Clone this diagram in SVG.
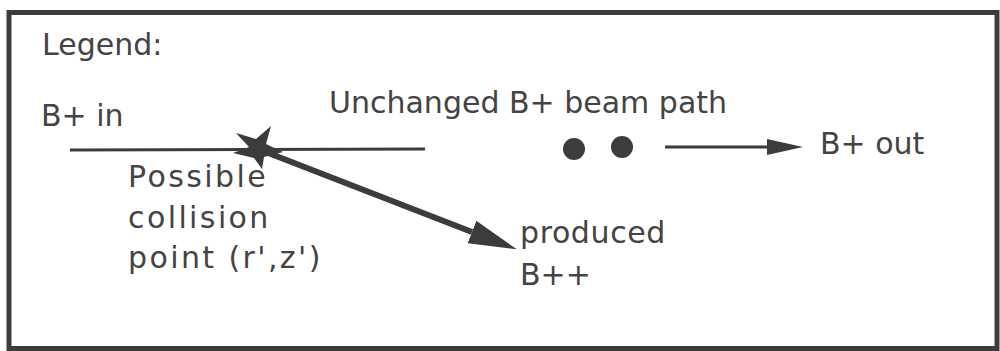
<svg xmlns="http://www.w3.org/2000/svg" width="1000" height="351" viewBox="0 0 1000 351">
<defs>
<style>
.t{font-family:"DejaVu Sans","Liberation Sans",sans-serif;font-size:30px;fill:#444}
.wide{letter-spacing:2.4px}
.ln{stroke:#3c3c3c;fill:none}
.fill{fill:#3c3c3c}
</style>
<marker id="headBig" markerUnits="userSpaceOnUse" markerWidth="50" markerHeight="26" refX="0" refY="12" orient="auto" viewBox="0 0 50 24">
<path d="M0,0 L48,12 L0,24 z" fill="#3c3c3c"/>
</marker>
<marker id="headSmall" markerUnits="userSpaceOnUse" markerWidth="38" markerHeight="18" refX="0" refY="8" orient="auto" viewBox="0 0 38 16">
<path d="M0,0 L36,8 L0,16 z" fill="#3c3c3c"/>
</marker>
</defs>
<rect width="1000" height="351" fill="#fff"/>
<rect x="9" y="12.5" width="988" height="336" fill="none" stroke="#3c3c3c" stroke-width="5"/>
<g id="legend-title"><text class="t" x="42" y="55">Legend:</text></g>
<g id="b-in"><text class="t" x="41" y="126">B+ in</text></g>
<g id="beam-path-label"><text class="t" x="329" y="113">Unchanged B+ beam path</text></g>
<g id="collision-point">
<polygon class="fill" points="271,126 266,144 283,152 264,157 262,169 254,158 233,153 249,147 236,133 256,139"/>
<text class="t wide" x="128" y="187">Possible</text>
<text class="t wide" x="128" y="228">collision</text>
<text class="t wide" x="128" y="268">point (r',z')</text>
</g>
<g id="dots">
<circle class="fill" cx="574" cy="149" r="11"/>
<circle class="fill" cx="622" cy="147" r="11"/>
</g>
<g id="b-out"><text class="t" x="820" y="154">B+ out</text></g>
<g id="produced"><text class="t" x="520" y="243" letter-spacing="0.6">produced</text><text class="t" x="520" y="285">B++</text></g>
<g id="connectors">
<line class="ln" x1="70" y1="150" x2="425" y2="149" stroke-width="3"/>
<line class="ln" x1="258" y1="149" x2="472" y2="232" stroke-width="6" marker-end="url(#headBig)"/>
<line class="ln" x1="665" y1="147" x2="767" y2="147" stroke-width="3" marker-end="url(#headSmall)"/>
</g>
</svg>
